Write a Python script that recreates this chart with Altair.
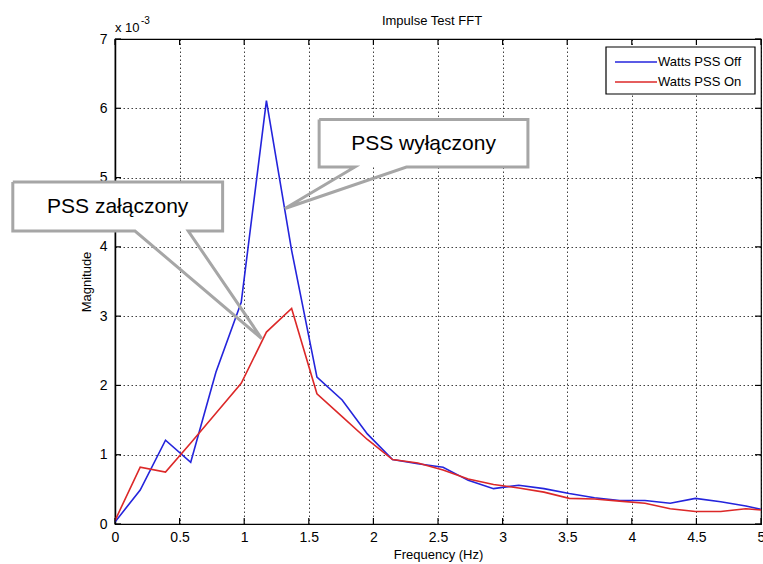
import altair as alt
import pandas as pd

# ---------------- data (magnitude in units of 1e-3) ----------------
freq_hz = [0.000, 0.195, 0.391, 0.586, 0.781, 0.977, 1.172, 1.367, 1.563, 1.758,
           1.953, 2.148, 2.344, 2.539, 2.734, 2.930, 3.125, 3.320, 3.516, 3.711,
           3.906, 4.102, 4.297, 4.492, 4.688, 4.883, 5.078]
pss_off = [0.03, 0.49, 1.21, 0.89, 2.19, 3.20, 6.11, 3.95, 2.12, 1.79,
           1.30, 0.93, 0.87, 0.82, 0.63, 0.51, 0.56, 0.51, 0.44, 0.38,
           0.34, 0.34, 0.30, 0.37, 0.32, 0.26, 0.18]
pss_on = [0.05, 0.82, 0.75, 1.17, 1.60, 2.03, 2.77, 3.11, 1.88, 1.55,
          1.22, 0.93, 0.88, 0.78, 0.65, 0.57, 0.52, 0.46, 0.37, 0.36,
          0.33, 0.30, 0.22, 0.18, 0.18, 0.22, 0.19]
series_names = ["Watts PSS Off", "Watts PSS On"]
series_colors = ["#2424dc", "#dc2828"]

x_ticks = [0, 0.5, 1, 1.5, 2, 2.5, 3, 3.5, 4, 4.5, 5]
y_ticks = [0, 1, 2, 3, 4, 5, 6, 7]

chart_title = "Impulse Test FFT"
x_title = "Frequency (Hz)"
y_title = "Magnitude"
exp_base = "x 10"
exp_power = "-3"

# callouts (data coordinates)
callout_texts = ["PSS wyłączony", "PSS załączony"]
callout_box_x = [(1.580, 3.196), (-0.791, 0.833)]
callout_box_y = [(5.153, 5.837), (4.229, 4.937)]
callout_base_x = [(1.856, 2.256), (0.155, 0.567)]
callout_tip = [(1.315, 4.553), (1.135, 2.677)]
callout_text_y = [5.394, 4.489]

# ---------------- layout ----------------
W, H = 646, 485
FONT = "Liberation Sans"
GREY = "#a6a6a6"

xs = alt.Scale(domain=[0, 5], nice=False, zero=False)
ys = alt.Scale(domain=[0, 7], nice=False, zero=False)

x_axis = alt.Axis(values=x_ticks, format="~g", title=x_title, grid=True,
                  gridColor="#000", gridDash=[1.5, 2.5], gridOpacity=0.75,
                  ticks=False, domainColor="#000", domainWidth=1.2,
                  labelFont=FONT, labelFontSize=14, labelColor="#000",
                  labelPadding=6, labelFlush=False, titleFont=FONT, titleFontSize=13,
                  titleFontWeight="normal", titleColor="#000", titlePadding=4)
y_axis = alt.Axis(values=y_ticks, format="d", title=y_title, grid=True,
                  gridColor="#000", gridDash=[1.5, 2.5], gridOpacity=0.75,
                  ticks=False, domainColor="#000", domainWidth=1.5,
                  labelFont=FONT, labelFontSize=14, labelColor="#000",
                  labelPadding=8, labelFlush=False, titleFont=FONT, titleFontSize=13,
                  titleFontWeight="normal", titleColor="#000", titlePadding=6)


def X(field):
    return alt.X(field, type="quantitative", scale=xs, axis=x_axis, title=x_title)


def Y(field):
    return alt.Y(field, type="quantitative", scale=ys, axis=y_axis, title=y_title)


df_off = pd.DataFrame({"x": freq_hz, "y": pss_off})
df_on = pd.DataFrame({"x": freq_hz, "y": pss_on})

line_off = alt.Chart(df_off).mark_line(color=series_colors[0], strokeWidth=1.6, clip=True).encode(
    x=X("x"), y=Y("y"))
line_on = alt.Chart(df_on).mark_line(color=series_colors[1], strokeWidth=1.6, clip=True).encode(
    x=X("x"), y=Y("y"))

# inward ticks on all four sides
xt = pd.DataFrame({"x": x_ticks})
yt = pd.DataFrame({"y": y_ticks})
tick_b = alt.Chart(xt).mark_rule(color="#000", strokeWidth=1.2).encode(
    x=X("x"), y=alt.value(H), y2=alt.value(H - 6))
tick_t = alt.Chart(xt).mark_rule(color="#000", strokeWidth=1.2).encode(
    x=X("x"), y=alt.value(0), y2=alt.value(6))
tick_l = alt.Chart(yt).mark_rule(color="#000", strokeWidth=1.2).encode(
    y=Y("y"), x=alt.value(0), x2=alt.value(6))
tick_r = alt.Chart(yt).mark_rule(color="#000", strokeWidth=1.2).encode(
    y=Y("y"), x=alt.value(W), x2=alt.value(W - 6))

# title and exponent label anchored at the top of the y range
top_df = pd.DataFrame({"x": [0], "xm": [2.5], "y": [7], "b": [exp_base], "p": [exp_power],
                       "t": [chart_title]})
title_t = alt.Chart(top_df).mark_text(align="center", baseline="alphabetic", font=FONT,
                                      fontSize=13, dx=-6, dy=-14, color="#000").encode(
    x=X("xm"), y=Y("y"), text="t:N")
exp_base_t = alt.Chart(top_df).mark_text(align="left", baseline="alphabetic", font=FONT,
                                         fontSize=13, dy=-7, color="#000").encode(
    x=X("x"), y=Y("y"), text="b:N")
exp_pow_t = alt.Chart(top_df).mark_text(align="left", baseline="alphabetic", font=FONT,
                                        fontSize=10, dx=26, dy=-15, color="#000").encode(
    x=X("x"), y=Y("y"), text="p:N")

# callouts
box_rows, outline_rows, text_rows = [], [], []
for i, txt in enumerate(callout_texts):
    x0, x1 = callout_box_x[i]
    y0, y1 = callout_box_y[i]
    bl, br = callout_base_x[i]
    tx, ty = callout_tip[i]
    box_rows.append({"x": x0, "x2": x1, "y": y0, "y2": y1})
    pts = [(x0, y1), (x1, y1), (x1, y0), (br, y0), (tx, ty), (bl, y0), (x0, y0), (x0, y1)]
    for o, (px, py) in enumerate(pts):
        outline_rows.append({"id": i, "o": o, "x": px, "y": py})
    text_rows.append({"x": (x0 + x1) / 2, "y": callout_text_y[i], "t": txt})

boxes = alt.Chart(pd.DataFrame(box_rows)).mark_rect(color="white").encode(
    x=X("x"), x2="x2:Q", y=Y("y"), y2="y2:Q")
outlines = alt.Chart(pd.DataFrame(outline_rows)).mark_line(
    color=GREY, strokeWidth=3, strokeJoin="miter").encode(
    x=X("x"), y=Y("y"), detail="id:N", order="o:Q")
texts = alt.Chart(pd.DataFrame(text_rows)).mark_text(
    align="center", baseline="alphabetic", font=FONT, fontSize=21, color="#000").encode(
    x=X("x"), y=Y("y"), text="t:N")

# legend (manual, MATLAB-style box)
LX0, LY0, LX1, LY1 = 491, 8, 640, 55
leg_layers = [
    alt.Chart(pd.DataFrame({"a": [0]})).mark_rect(fill="white", stroke="#000", strokeWidth=1.2).encode(
        x=alt.value(LX0), x2=alt.value(LX1), y=alt.value(LY0), y2=alt.value(LY1))
]
for i, (name, col) in enumerate(zip(series_names, series_colors)):
    yy = 23 + 20 * i
    leg_df = pd.DataFrame({"name": [name]})
    leg_layers.append(alt.Chart(leg_df).mark_rule(color=col, strokeWidth=1.6).encode(
        x=alt.value(LX0 + 9), x2=alt.value(LX0 + 51), y=alt.value(yy)))
    leg_layers.append(alt.Chart(leg_df).mark_text(
        align="left", baseline="middle", font=FONT, fontSize=13, color="#000").encode(
        x=alt.value(LX0 + 52), y=alt.value(yy), text="name:N"))

chart = alt.layer(
    line_off, line_on, tick_b, tick_t, tick_l, tick_r, title_t, exp_base_t, exp_pow_t,
    boxes, outlines, texts, *leg_layers
).properties(
    width=W, height=H,
    autosize=alt.AutoSizeParams(type="none"),
    padding={"left": 115, "top": 39, "right": 2, "bottom": 40},
    background="white",
).configure_view(stroke="#000", strokeWidth=1.2)

chart.save("out.html", embed_options={"renderer": "svg", "actions": False})
